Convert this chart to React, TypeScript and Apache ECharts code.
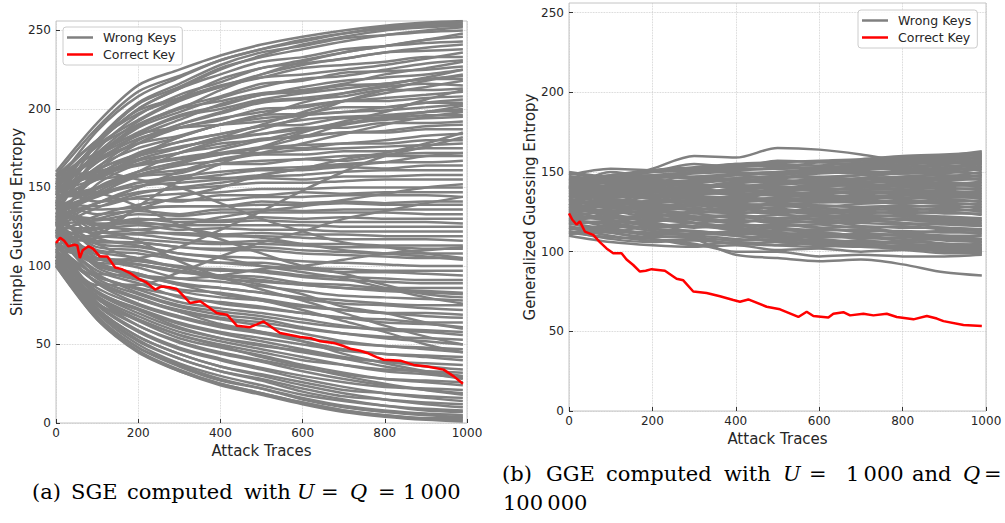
import React, { useEffect, useRef } from "react";
import * as echarts from "echarts";

// x positions (attack traces) at which the wrong-key curves were read
const traceX = [0, 100, 200, 300, 400, 500, 600, 700, 800, 900, 990];

// (a) simple guessing entropy, wrong keys
const sgeWrong: number[][] = [
  [160, 191, 215, 225, 234, 241, 246, 250, 253, 255, 256],
  [152, 186, 208, 220, 231, 238, 243, 248, 252, 254, 255],
  [140, 178, 203, 214, 226, 233, 238, 243, 247, 250, 252],
  [155, 180, 197, 207, 219, 226, 231, 236, 240, 244, 248],
  [147, 172, 192, 205, 214, 222, 228, 232, 236, 239, 241],
  [157, 180, 199, 207, 215, 220, 222, 225, 228, 232, 236],
  [136, 168, 188, 198, 207, 214, 219, 221, 225, 229, 231],
  [150, 170, 183, 193, 203, 209, 214, 218, 220, 222, 225],
  [145, 166, 184, 195, 200, 206, 210, 213, 216, 219, 221],
  [128, 160, 178, 190, 198, 205, 207, 210, 214, 216, 215],
  [151, 168, 181, 188, 194, 198, 202, 205, 207, 209, 211],
  [139, 163, 175, 182, 190, 194, 196, 198, 201, 204, 206],
  [131, 157, 172, 179, 184, 189, 193, 195, 196, 198, 199],
  [146, 162, 170, 176, 180, 184, 187, 191, 193, 194, 195],
  [142, 155, 167, 172, 178, 180, 183, 185, 186, 189, 190],
  [125, 150, 160, 166, 171, 175, 177, 178, 180, 183, 184],
  [148, 160, 165, 169, 172, 172, 174, 175, 176, 177, 178],
  [137, 149, 158, 161, 165, 167, 168, 170, 171, 172, 172],
  [133, 144, 153, 157, 160, 162, 163, 165, 166, 166, 167],
  [144, 146, 151, 153, 155, 157, 158, 160, 161, 161, 161],
  [129, 140, 147, 149, 151, 153, 153, 154, 155, 155, 155],
  [140, 138, 144, 146, 147, 149, 149, 150, 150, 150, 150],
  [121, 132, 139, 142, 142, 144, 144, 145, 145, 145, 144],
  [138, 136, 137, 138, 138, 139, 139, 140, 139, 139, 139],
  [127, 129, 133, 132, 134, 134, 134, 134, 134, 133, 133],
  [135, 126, 130, 128, 128, 129, 128, 128, 128, 128, 127],
  [124, 124, 126, 123, 124, 123, 123, 122, 122, 122, 122],
  [141, 126, 123, 120, 119, 119, 118, 117, 117, 117, 116],
  [118, 119, 117, 115, 114, 114, 113, 112, 112, 111, 111],
  [132, 116, 115, 112, 110, 110, 108, 107, 106, 105, 105],
  [126, 114, 112, 108, 106, 105, 103, 102, 101, 100, 100],
  [137, 110, 108, 104, 102, 100, 98, 96, 96, 95, 94],
  [120, 109, 105, 99, 98, 96, 93, 91, 90, 89, 89],
  [130, 105, 101, 96, 94, 91, 88, 86, 85, 84, 83],
  [123, 105, 99, 92, 90, 87, 84, 81, 80, 79, 78],
  [115, 102, 95, 89, 86, 83, 79, 76, 75, 73, 72],
  [128, 99, 91, 85, 83, 79, 75, 72, 70, 68, 67],
  [119, 97, 89, 80, 77, 74, 70, 67, 64, 63, 61],
  [112, 94, 85, 77, 73, 70, 66, 62, 59, 58, 56],
  [121, 92, 82, 74, 69, 66, 61, 57, 54, 52, 50],
  [113, 89, 79, 71, 66, 62, 57, 52, 49, 47, 45],
  [106, 86, 75, 67, 61, 57, 52, 47, 44, 42, 40],
  [115, 83, 72, 63, 57, 52, 47, 42, 39, 36, 34],
  [109, 81, 68, 58, 52, 47, 42, 37, 33, 31, 29],
  [104, 79, 65, 54, 48, 43, 37, 32, 28, 26, 24],
  [111, 77, 62, 51, 44, 39, 33, 28, 24, 21, 19],
  [103, 75, 58, 47, 40, 34, 28, 23, 19, 16, 14],
  [106, 73, 55, 44, 36, 30, 24, 19, 15, 12, 10],
  [101, 71, 52, 41, 33, 27, 20, 15, 11, 8, 7],
  [104, 68, 48, 37, 28, 22, 15, 10, 7, 5, 4],
  [100, 66, 45, 33, 24, 18, 12, 7, 4, 2, 1],
  [106, 88, 88, 96, 106, 115, 122, 130, 135, 140, 144],
  [155, 160, 155, 150, 140, 130, 122, 115, 112, 108, 105],
  [118, 120, 138, 154, 165, 175, 182, 190, 195, 198, 202],
  [145, 146, 138, 126, 117, 108, 100, 95, 88, 82, 80],
  [122, 104, 105, 112, 123, 135, 148, 160, 170, 176, 182],
  [138, 124, 116, 103, 93, 85, 78, 70, 62, 55, 50],
  [132, 140, 150, 160, 168, 172, 178, 184, 190, 195, 198],
  [110, 90, 80, 71, 63, 58, 52, 44, 38, 33, 30],
  [148, 170, 190, 200, 205, 210, 212, 216, 222, 226, 230],
  [122, 100, 94, 88, 82, 78, 72, 65, 58, 50, 45],
  [135, 145, 160, 172, 180, 187, 195, 205, 212, 218, 222],
  [128, 121, 123, 126, 131, 135, 138, 142, 146, 150, 152],
  [150, 158, 168, 175, 182, 190, 198, 205, 210, 214, 218],
  [108, 84, 72, 61, 54, 49, 46, 41, 36, 32, 28],
  [143, 156, 170, 182, 190, 196, 204, 210, 215, 220, 225],
  [119, 102, 101, 97, 92, 90, 88, 86, 84, 83, 82],
  [133, 130, 128, 125, 120, 118, 114, 110, 108, 106, 104],
  [153, 176, 190, 200, 212, 222, 230, 236, 240, 244, 246],
  [104, 76, 66, 56, 49, 42, 36, 30, 25, 21, 18],
  [158, 188, 211, 221, 231, 238, 244, 248, 251, 253, 254],
  [149, 178, 200, 213, 225, 234, 241, 246, 250, 252, 253],
  [145, 180, 204, 216, 228, 236, 240, 245, 247, 249, 250],
  [150, 178, 200, 213, 222, 230, 233, 238, 240, 242, 243],
  [138, 174, 196, 209, 217, 226, 229, 232, 236, 237, 238],
  [152, 177, 193, 206, 214, 220, 226, 228, 230, 233, 233],
  [133, 170, 189, 201, 208, 216, 218, 223, 224, 225, 227],
  [146, 171, 185, 196, 202, 209, 211, 215, 216, 219, 219],
  [126, 162, 180, 190, 197, 204, 206, 208, 212, 212, 213],
  [141, 166, 178, 188, 193, 200, 201, 205, 205, 207, 208],
  [154, 168, 178, 183, 190, 196, 197, 201, 201, 204, 204],
  [130, 158, 170, 179, 184, 189, 190, 194, 194, 196, 196],
  [143, 161, 171, 175, 182, 184, 188, 188, 191, 191, 192],
  [122, 152, 165, 172, 176, 181, 182, 185, 185, 187, 187],
  [149, 158, 164, 168, 171, 175, 175, 178, 178, 180, 180],
  [127, 147, 158, 164, 167, 171, 171, 173, 173, 175, 175],
  [136, 146, 157, 159, 165, 165, 168, 167, 170, 170, 170],
  [147, 147, 153, 155, 158, 161, 161, 163, 162, 164, 164],
  [125, 137, 146, 150, 153, 156, 155, 157, 157, 158, 158],
  [150, 141, 143, 141, 145, 145, 147, 146, 147, 147, 147],
  [122, 130, 136, 138, 138, 141, 140, 141, 140, 141, 141],
  [142, 133, 135, 133, 136, 136, 135, 136, 136, 136, 136],
  [118, 124, 129, 130, 129, 131, 130, 131, 130, 130, 130],
  [137, 127, 127, 126, 126, 126, 126, 125, 125, 125, 125],
  [114, 118, 121, 121, 120, 121, 120, 120, 119, 119, 119],
  [140, 122, 120, 117, 115, 116, 114, 114, 113, 113, 113],
  [121, 115, 115, 112, 111, 112, 110, 109, 108, 108, 108],
  [133, 112, 110, 105, 102, 102, 99, 98, 97, 97, 97],
  [111, 105, 103, 100, 97, 97, 94, 93, 92, 91, 91],
  [124, 107, 101, 97, 94, 93, 89, 88, 86, 86, 86],
  [114, 101, 95, 88, 86, 83, 80, 78, 76, 75, 75],
  [128, 102, 92, 84, 80, 78, 74, 72, 70, 70, 69],
  [106, 93, 86, 81, 76, 73, 70, 67, 66, 64, 64],
  [120, 95, 83, 75, 71, 68, 64, 61, 60, 59, 58],
  [109, 90, 79, 72, 67, 64, 60, 57, 55, 54, 53],
  [115, 89, 76, 68, 62, 58, 54, 51, 49, 48, 47],
  [104, 83, 73, 64, 58, 54, 50, 46, 44, 43, 42],
  [110, 83, 70, 60, 54, 50, 45, 41, 39, 38, 37],
  [102, 80, 66, 56, 50, 45, 40, 37, 34, 33, 32],
  [114, 80, 62, 52, 45, 40, 35, 31, 28, 27, 26],
  [106, 76, 59, 48, 41, 35, 30, 26, 23, 22, 21],
  [103, 73, 55, 44, 36, 31, 26, 21, 19, 17, 16],
  [107, 72, 53, 41, 33, 28, 22, 17, 15, 13, 12],
  [102, 70, 50, 38, 30, 24, 18, 14, 11, 9, 8],
  [104, 68, 48, 36, 27, 22, 16, 11, 8, 6, 5],
  [100, 67, 46, 34, 25, 19, 13, 8, 5, 3, 3],
  [102, 66, 46, 33, 25, 19, 13, 8, 5, 3, 2],
  [147, 155, 158, 165, 172, 176, 185, 192, 198, 206, 212],
  [120, 124, 136, 144, 150, 158, 162, 168, 172, 178, 185],
  [139, 118, 113, 108, 105, 100, 96, 92, 86, 80, 76],
  [114, 95, 94, 92, 94, 98, 100, 104, 108, 110, 112],
  [126, 140, 150, 156, 156, 158, 162, 164, 166, 170, 172],
  [157, 172, 184, 188, 190, 192, 196, 198, 199, 201, 203],
  [131, 114, 104, 99, 93, 88, 82, 74, 70, 64, 60],
  [144, 150, 160, 166, 174, 180, 186, 190, 194, 198, 200],
];

// (a) correct key
const sgeCorrectX = [0, 10, 20, 30, 45, 52, 58, 65, 79, 90, 107, 125, 144, 160, 180, 200, 220, 241, 257, 275, 294, 310, 326, 351, 370, 391, 416, 440, 472, 490, 505, 525, 545, 570, 594, 620, 643, 675, 700, 716, 740, 757, 780, 797, 820, 838, 870, 903, 943, 968, 990];
const sgeCorrectY = [114.6, 118, 116, 112.5, 113.5, 113, 105, 110, 112.5, 111, 106, 106, 99, 98, 95.5, 92, 89.5, 85, 87, 86.5, 85.3, 81, 76.4, 77.5, 74, 70, 69, 62, 61, 63, 64.7, 61, 57.3, 56, 54.8, 54, 52, 51, 49, 47.3, 46, 44.6, 42, 40.3, 40, 39.7, 37, 36, 34, 29.7, 25];

// (b) generalized guessing entropy, wrong keys
const ggeWrong: number[][] = [
  [140, 145, 152, 160, 159, 165, 164, 161, 157, 156, 157],
  [128, 122, 115, 108, 98, 96, 94, 95, 92, 87, 85],
  [118, 112, 108, 105, 100, 100, 97, 98, 97, 97, 98],
  [110, 106, 104, 103, 104, 101, 102, 100, 101, 99, 99],
  [112, 109, 108, 104, 106, 104, 103, 105, 103, 101, 101],
  [115, 110, 107, 108, 105, 106, 104, 103, 104, 102, 103],
  [111, 113, 110, 109, 107, 108, 106, 107, 105, 104, 105],
  [118, 114, 112, 113, 110, 109, 111, 108, 109, 107, 106],
  [114, 116, 113, 111, 113, 112, 110, 111, 110, 109, 108],
  [120, 117, 115, 116, 114, 115, 113, 114, 112, 113, 111],
  [117, 119, 118, 115, 117, 116, 117, 115, 116, 114, 113],
  [123, 120, 116, 118, 120, 118, 119, 120, 118, 117, 116],
  [119, 122, 121, 120, 118, 121, 120, 119, 121, 120, 119],
  [126, 121, 123, 122, 123, 121, 123, 122, 123, 122, 121],
  [122, 125, 122, 125, 124, 126, 124, 125, 124, 125, 123],
  [128, 124, 126, 124, 127, 125, 127, 126, 127, 126, 126],
  [124, 127, 128, 127, 126, 128, 129, 128, 129, 128, 128],
  [131, 129, 127, 130, 129, 130, 128, 130, 131, 130, 130],
  [127, 131, 130, 129, 131, 132, 131, 132, 130, 132, 132],
  [133, 130, 132, 131, 133, 131, 133, 134, 133, 134, 134],
  [129, 133, 131, 134, 132, 134, 135, 133, 135, 136, 136],
  [135, 134, 135, 133, 135, 136, 134, 136, 137, 137, 138],
  [132, 136, 134, 136, 137, 135, 137, 138, 137, 139, 140],
  [138, 135, 137, 138, 136, 138, 139, 139, 140, 141, 142],
  [134, 138, 139, 137, 139, 140, 138, 141, 142, 142, 144],
  [140, 137, 138, 140, 141, 139, 141, 142, 141, 144, 146],
  [137, 140, 141, 142, 140, 142, 143, 143, 144, 145, 148],
  [142, 139, 142, 141, 143, 144, 142, 145, 146, 147, 150],
  [139, 142, 144, 143, 145, 143, 145, 146, 147, 149, 152],
  [144, 141, 143, 145, 146, 147, 147, 148, 149, 150, 154],
  [141, 145, 147, 146, 148, 149, 150, 149, 151, 153, 156],
  [146, 144, 146, 149, 150, 148, 151, 152, 153, 155, 158],
  [143, 147, 148, 150, 152, 152, 153, 154, 156, 157, 160],
  [147, 146, 150, 152, 154, 155, 154, 156, 158, 159, 161],
  [145, 148, 151, 153, 155, 156, 157, 158, 160, 161, 162],
  [140, 150, 146, 140, 136, 130, 126, 122, 120, 118, 116],
  [115, 112, 118, 125, 132, 138, 142, 146, 150, 152, 155],
  [130, 124, 118, 112, 110, 106, 105, 104, 103, 102, 101],
  [125, 130, 138, 144, 148, 150, 152, 153, 155, 158, 159],
  [150, 146, 140, 133, 128, 124, 120, 116, 112, 110, 108],
  [112, 115, 120, 118, 115, 112, 108, 105, 103, 101, 100],
  [136, 132, 126, 122, 118, 114, 112, 110, 108, 105, 104],
  [120, 124, 130, 136, 140, 143, 146, 148, 150, 151, 153],
  [133, 128, 122, 118, 114, 110, 106, 104, 103, 102, 100],
  [148, 152, 151, 155, 153, 157, 156, 155, 157, 160, 163],
  [113, 108, 106, 107, 105, 104, 106, 104, 103, 104, 102],
  [116, 112, 109, 110, 108, 107, 105, 106, 106, 105, 104],
  [121, 115, 111, 111, 112, 110, 109, 109, 107, 108, 107],
  [119, 118, 114, 113, 111, 111, 112, 110, 111, 110, 110],
  [124, 119, 117, 116, 115, 113, 114, 113, 113, 112, 112],
  [121, 121, 120, 118, 116, 117, 115, 116, 115, 115, 114],
  [127, 123, 119, 121, 119, 120, 118, 118, 117, 118, 117],
  [125, 126, 124, 121, 122, 119, 121, 121, 120, 119, 118],
  [130, 125, 125, 124, 121, 123, 122, 123, 122, 121, 120],
  [128, 128, 126, 127, 125, 124, 126, 124, 125, 124, 124],
  [126, 130, 129, 126, 128, 127, 125, 127, 126, 127, 125],
  [133, 129, 128, 129, 128, 130, 129, 128, 128, 129, 127],
  [130, 132, 131, 132, 130, 129, 131, 131, 132, 131, 129],
  [136, 133, 129, 130, 132, 133, 132, 133, 131, 133, 131],
  [131, 135, 133, 132, 134, 133, 134, 135, 134, 135, 133],
  [137, 134, 136, 135, 134, 136, 136, 134, 136, 135, 135],
  [134, 137, 135, 137, 136, 137, 137, 137, 138, 138, 137],
  [139, 136, 138, 136, 138, 138, 140, 139, 139, 140, 139],
  [136, 139, 140, 139, 138, 141, 139, 140, 141, 142, 141],
  [141, 138, 139, 141, 142, 140, 142, 141, 143, 143, 143],
  [138, 141, 143, 142, 141, 143, 144, 144, 145, 146, 145],
  [143, 140, 141, 144, 145, 145, 144, 146, 147, 148, 147],
  [140, 144, 145, 144, 146, 147, 146, 148, 149, 150, 149],
  [145, 143, 146, 147, 148, 146, 149, 150, 150, 152, 151],
  [142, 146, 148, 147, 149, 150, 151, 152, 152, 154, 153],
  [146, 145, 147, 150, 151, 152, 153, 153, 155, 156, 155],
  [144, 148, 150, 151, 153, 154, 152, 155, 157, 158, 157],
  [118, 125, 131, 138, 143, 148, 150, 151, 153, 155, 156],
  [146, 140, 134, 128, 124, 118, 115, 112, 110, 108, 106],
  [123, 130, 135, 140, 144, 146, 150, 152, 154, 157, 159],
  [135, 130, 125, 118, 113, 109, 107, 103, 102, 100, 99],
  [128, 135, 142, 150, 155, 153, 156, 157, 159, 160, 161],
  [140, 133, 127, 122, 117, 112, 108, 106, 105, 103, 102],
  [111, 117, 125, 130, 134, 137, 140, 143, 145, 146, 148],
  [149, 145, 140, 135, 131, 126, 123, 120, 118, 115, 114],
];

// (b) correct key
const ggeCorrectX = [0, 8, 18, 26, 38, 58, 74, 90, 106, 126, 138, 154, 170, 184, 198, 230, 258, 274, 298, 330, 362, 394, 410, 430, 474, 506, 550, 570, 586, 622, 634, 658, 674, 706, 730, 762, 786, 826, 858, 882, 898, 946, 990];
const ggeCorrectY = [124, 120, 117, 119, 112.6, 110.5, 106, 102, 99, 99, 95, 91.6, 87.5, 88, 89, 88, 83, 82, 75, 74, 72, 69.6, 68.6, 70, 65.4, 63.8, 59, 62.3, 59.6, 58.7, 61, 62, 60, 61, 60, 61, 59, 57.5, 59.6, 58, 56.4, 54, 53.3];

const yTickValues = [0, 50, 100, 150, 200, 250];
const xTickValues = [0, 200, 400, 600, 800, 1000];
const legendNames = ["Wrong Keys", "Correct Key"];

const GREY = "#808080";
const RED = "#ff0000";
const SANS = "DejaVu Sans";
const SERIF = "DejaVu Serif";

function makeAxes(gi: number, xName: string, yName: string) {
  const common = {
    gridIndex: gi,
    type: "value" as const,
    axisLine: { show: false },
    axisTick: { inside: true, length: 4, lineStyle: { color: "#333", width: 1 } },
    splitLine: { show: true, lineStyle: { color: "#c8c8c8", type: "dotted", width: 0.8 } },
    nameLocation: "middle" as const,
    nameTextStyle: { fontSize: 15, fontFamily: SANS, color: "#262626" },
  };
  const x = {
    ...common,
    min: 0,
    max: 1000,
    interval: 200,
    name: xName,
    nameGap: 17,
    axisLabel: { fontSize: 12, fontFamily: SANS, color: "#262626", margin: 4, customValues: xTickValues, formatter: (v: number) => String(v) },
    axisTick: { ...common.axisTick, customValues: xTickValues },
  };
  const y = {
    ...common,
    min: 0,
    max: 256,
    interval: 50,
    name: yName,
    nameGap: 32,
    axisLabel: { fontSize: 12, fontFamily: SANS, color: "#262626", margin: 5, customValues: yTickValues, formatter: (v: number) => String(v) },
    axisTick: { ...common.axisTick, customValues: yTickValues },
  };
  return { x, y };
}

function wrongSeries(lines: number[][], gi: number, width: number) {
  return lines.map((v) => ({
    type: "line",
    name: "Wrong Keys",
    xAxisIndex: gi,
    yAxisIndex: gi,
    data: traceX.map((x, i) => [x, v[i]]),
    symbol: "none",
    smooth: 0.3,
    silent: true,
    lineStyle: { color: GREY, width },
    itemStyle: { color: GREY },
    z: 2,
  }));
}

function correctSeries(xs: number[], ys: number[], gi: number) {
  return {
    type: "line",
    name: "Correct Key",
    xAxisIndex: gi,
    yAxisIndex: gi,
    data: xs.map((x, i) => [x, ys[i]]),
    symbol: "none",
    silent: true,
    lineStyle: { color: RED, width: 2.5 },
    itemStyle: { color: RED },
    z: 5,
  };
}

function legendAt(left: number, top: number) {
  return {
    left,
    top,
    orient: "vertical",
    data: legendNames,
    icon: "rect",
    itemWidth: 26,
    itemHeight: 2.5,
    itemGap: 4,
    padding: [4, 6, 4, 4],
    backgroundColor: "rgba(255,255,255,0.85)",
    borderColor: "#cccccc",
    borderWidth: 1,
    borderRadius: 3,
    selectedMode: false,
    textStyle: { fontSize: 12.5, fontFamily: SANS, color: "#262626", padding: [0, 0, 0, 5] },
    z: 10,
  };
}

type Word = { t: string; x: number; italic?: boolean };
const captionA: Word[] = [
  { t: "(a)", x: 32 }, { t: "SGE", x: 71 }, { t: "computed", x: 127 }, { t: "with", x: 244 },
  { t: "U", x: 297, italic: true }, { t: "=", x: 321 }, { t: "Q", x: 350, italic: true },
  { t: "=", x: 378 }, { t: "1\u2009000", x: 403 },
];
const captionB1: Word[] = [
  { t: "(b)", x: 502 }, { t: "GGE", x: 546 }, { t: "computed", x: 606 }, { t: "with", x: 724 },
  { t: "U", x: 783, italic: true }, { t: "=", x: 809 }, { t: "1\u2009000", x: 846 },
  { t: "and", x: 912 }, { t: "Q", x: 963, italic: true }, { t: "=", x: 984 },
];
const captionB2: Word[] = [{ t: "100\u2009000", x: 503 }];

function words(ws: Word[], y: number) {
  return ws.map((w) => ({
    type: "text",
    x: w.x,
    y,
    style: {
      text: w.t,
      font: `${w.italic ? "italic " : ""}21px "${SERIF}"`,
      fill: "#000",
      verticalAlign: "middle",
      align: "left",
    },
  }));
}

export default function App() {
  const ref = useRef<HTMLDivElement>(null);
  useEffect(() => {
    document.body.style.margin = "0";
    if (!ref.current) return;
    const chart = echarts.init(ref.current, undefined, { renderer: "svg" });
    const a = makeAxes(0, "Attack Traces", "Simple Guessing Entropy");
    const b = makeAxes(1, "Attack Traces", "Generalized Guessing Entropy");
    chart.setOption({
      animation: false,
      backgroundColor: "#ffffff",
      grid: [
        { left: 56, top: 21, width: 411, height: 402, show: true, borderColor: "#c4c4c4", borderWidth: 1, backgroundColor: "transparent" },
        { left: 569, top: 3, width: 417, height: 408, show: true, borderColor: "#c4c4c4", borderWidth: 1, backgroundColor: "transparent" },
      ],
      xAxis: [a.x, b.x],
      yAxis: [a.y, b.y],
      legend: [legendAt(63, 27), legendAt(858, 10)],
      series: [
        ...wrongSeries(sgeWrong, 0, 2.5),
        correctSeries(sgeCorrectX, sgeCorrectY, 0),
        ...wrongSeries(ggeWrong, 1, 2.5),
        correctSeries(ggeCorrectX, ggeCorrectY, 1),
      ],
      graphic: [...words(captionA, 492), ...words(captionB1, 474), ...words(captionB2, 503)],
    });
    return () => chart.dispose();
  }, []);
  return <div ref={ref} style={{ width: 1005, height: 523, position: "absolute", left: 0, top: 0 }} />;
}
